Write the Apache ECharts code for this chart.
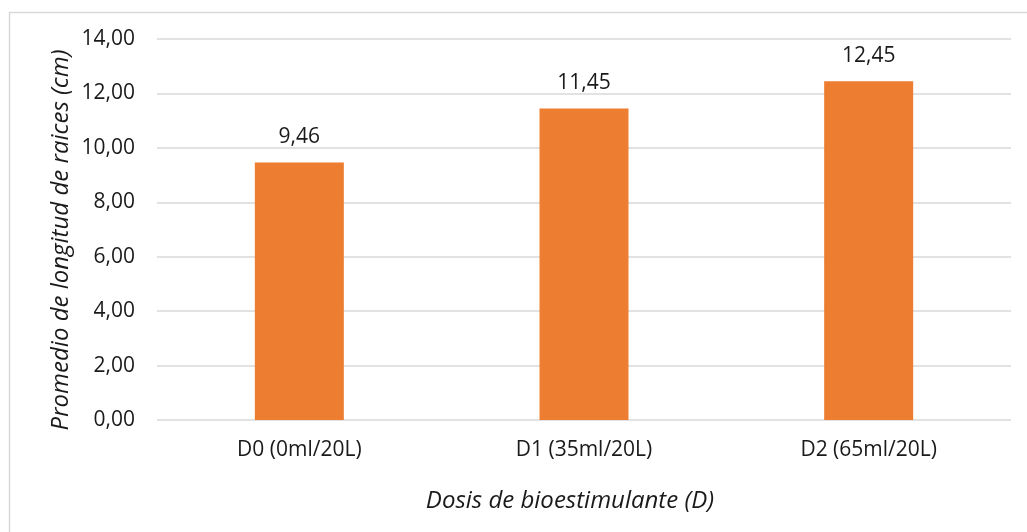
<!DOCTYPE html>
<html>
<head>
<meta charset="utf-8">
<script src="https://cdn.jsdelivr.net/npm/echarts@6/dist/echarts.min.js"></script>
<style>
html,body{margin:0;padding:0;background:#fff;}
#chart{width:1027px;height:532px;}
</style>
</head>
<body>
<div id="chart"></div>
<script>
const categories = ['D0 (0ml/20L)', 'D1 (35ml/20L)', 'D2 (65ml/20L)'];
const values = [9.46, 11.45, 12.45];
const yTitle = 'Promedio de longitud de raices (cm)';
const xTitle = 'Dosis de bioestimulante (D)';

const FONT = '"Open Sans", "Liberation Sans", sans-serif';
const TXT = '#1a1a1a';
const fmt = v => v.toFixed(2).replace('.', ',');

const chart = echarts.init(document.getElementById('chart'), null, {renderer: 'canvas'});
chart.setOption({
  animation: false,
  backgroundColor: '#fff',
  graphic: [
    {type: 'rect', left: 7, top: 10, shape: {x: 0, y: 0, width: 1040, height: 540},
     style: {fill: 'none', stroke: '#d9d9d9', lineWidth: 1.5}, silent: true, z: -1},
    {type: 'text', x: 61, y: 240, rotation: Math.PI / 2,
     style: {text: yTitle, fill: TXT, font: 'italic 24px ' + FONT, align: 'center', verticalAlign: 'middle'}},
    {type: 'text', x: 570, y: 501,
     style: {text: xTitle, fill: TXT, font: 'italic 24px ' + FONT, align: 'center', verticalAlign: 'middle'}}
  ],
  grid: {left: 157, right: 16, top: 39, bottom: 112, containLabel: false},
  xAxis: {
    type: 'category',
    data: categories,
    axisLine: {show: false},
    axisTick: {show: false},
    axisLabel: {color: TXT, fontFamily: FONT, fontSize: 21, margin: 20}
  },
  yAxis: {
    type: 'value',
    min: 0, max: 14, interval: 2,
    axisLine: {show: false},
    axisTick: {show: false},
    axisLabel: {color: TXT, fontFamily: FONT, fontSize: 21, margin: 22, formatter: fmt},
    splitLine: {lineStyle: {color: '#d9d9d9', width: 1.5}}
  },
  series: [{
    type: 'bar',
    data: values,
    barWidth: 89,
    itemStyle: {color: '#ED7D31'},
    label: {show: true, position: 'top', distance: 15, color: TXT, fontFamily: FONT, fontSize: 21, formatter: p => fmt(p.value)}
  }]
});
</script>
</body>
</html>
